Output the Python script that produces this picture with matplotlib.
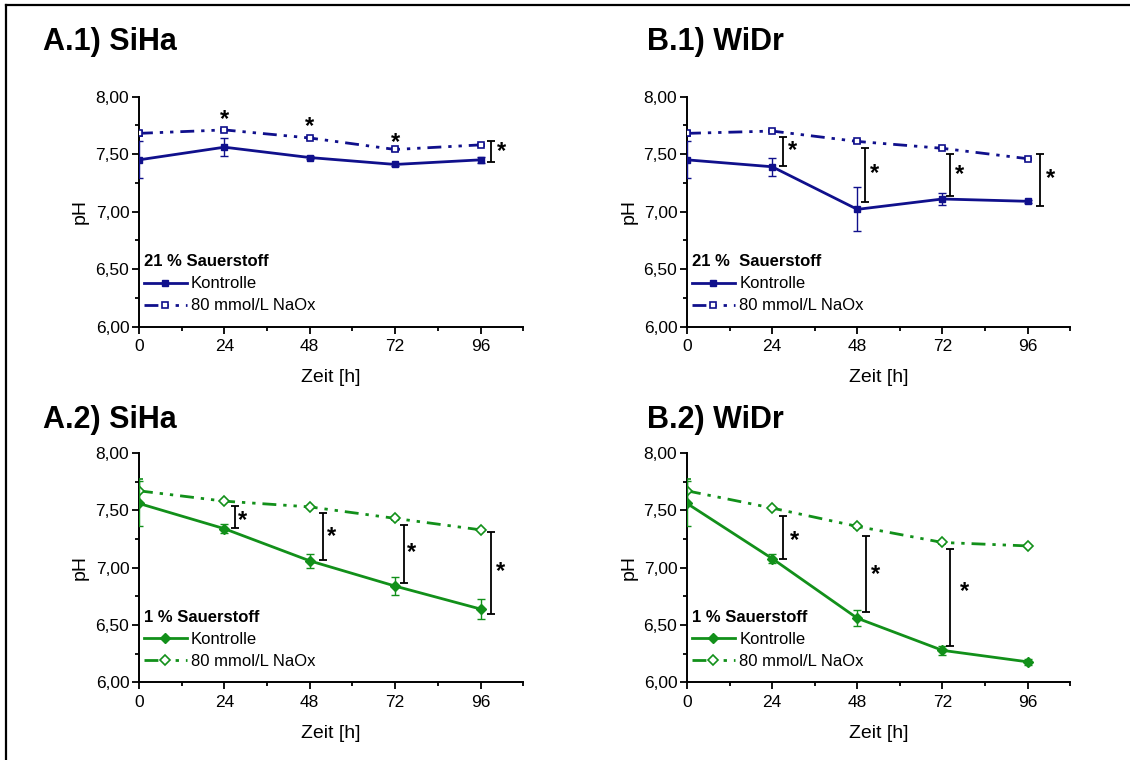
import numpy as np
import matplotlib
matplotlib.use("Agg")
import matplotlib.pyplot as plt
from matplotlib.ticker import MultipleLocator, FuncFormatter
from matplotlib.lines import Line2D

plt.rcParams['font.family'] = ['Liberation Sans', 'DejaVu Sans']

# time points [h]
zeit = [0, 24, 48, 72, 96]

# A.1) SiHa, 21 % Sauerstoff
siha21_ctrl = [7.45, 7.56, 7.47, 7.41, 7.45]
siha21_ctrl_err = [0.16, 0.08, 0.01, 0.01, 0.025]
siha21_naox = [7.68, 7.71, 7.64, 7.54, 7.58]
siha21_naox_err = [0.02, 0.01, 0.01, 0.01, 0.01]
siha21_sig_x = [99]
siha21_sig_lo = [7.43]
siha21_sig_hi = [7.61]
siha21_star_x = [24, 48, 72, 101.8]
siha21_star_y = [7.80, 7.74, 7.60, 7.52]

# B.1) WiDr, 21 % Sauerstoff
widr21_ctrl = [7.45, 7.39, 7.02, 7.11, 7.09]
widr21_ctrl_err = [0.16, 0.08, 0.19, 0.05, 0.015]
widr21_naox = [7.68, 7.70, 7.61, 7.55, 7.46]
widr21_naox_err = [0.02, 0.01, 0.01, 0.01, 0.01]
widr21_sig_x = [27, 50.2, 74.2, 99.4]
widr21_sig_lo = [7.40, 7.08, 7.14, 7.05]
widr21_sig_hi = [7.65, 7.55, 7.50, 7.50]
widr21_star_x = [29.8, 52.8, 76.7, 102.6]
widr21_star_y = [7.53, 7.33, 7.32, 7.29]

# A.2) SiHa, 1 % Sauerstoff
siha1_ctrl = [7.56, 7.34, 7.06, 6.84, 6.64]
siha1_ctrl_err = [0.2, 0.04, 0.06, 0.075, 0.085]
siha1_naox = [7.67, 7.58, 7.53, 7.43, 7.33]
siha1_naox_err = [0.1, 0.01, 0.01, 0.01, 0.01]
siha1_sig_x = [27, 51.6, 74.6, 98.9]
siha1_sig_lo = [7.35, 7.07, 6.87, 6.60]
siha1_sig_hi = [7.54, 7.48, 7.37, 7.31]
siha1_star_x = [29.1, 54.0, 76.5, 101.7]
siha1_star_y = [7.41, 7.27, 7.13, 6.97]

# B.2) WiDr, 1 % Sauerstoff
widr1_ctrl = [7.56, 7.08, 6.56, 6.28, 6.18]
widr1_ctrl_err = [0.2, 0.04, 0.07, 0.04, 0.025]
widr1_naox = [7.67, 7.52, 7.36, 7.22, 7.19]
widr1_naox_err = [0.1, 0.01, 0.01, 0.01, 0.01]
widr1_sig_x = [27, 50.5, 74.2]
widr1_sig_lo = [7.08, 6.61, 6.32]
widr1_sig_hi = [7.45, 7.28, 7.16]
widr1_star_x = [30.2, 53.1, 78.3]
widr1_star_y = [7.24, 6.94, 6.79]

blue = '#10108c'
green = '#12901a'

panels = [
    ('A.1) SiHa', '21 % Sauerstoff', blue, 's', siha21_ctrl, siha21_ctrl_err, siha21_naox, siha21_naox_err,
     siha21_sig_x, siha21_sig_lo, siha21_sig_hi, siha21_star_x, siha21_star_y),
    ('B.1) WiDr', '21 %  Sauerstoff', blue, 's', widr21_ctrl, widr21_ctrl_err, widr21_naox, widr21_naox_err,
     widr21_sig_x, widr21_sig_lo, widr21_sig_hi, widr21_star_x, widr21_star_y),
    ('A.2) SiHa', '1 % Sauerstoff', green, 'D', siha1_ctrl, siha1_ctrl_err, siha1_naox, siha1_naox_err,
     siha1_sig_x, siha1_sig_lo, siha1_sig_hi, siha1_star_x, siha1_star_y),
    ('B.2) WiDr', '1 % Sauerstoff', green, 'D', widr1_ctrl, widr1_ctrl_err, widr1_naox, widr1_naox_err,
     widr1_sig_x, widr1_sig_lo, widr1_sig_hi, widr1_star_x, widr1_star_y),
]

# axes rectangles in figure fractions
rects = [
    [0.123, 0.570, 0.340, 0.303],
    [0.608, 0.570, 0.339, 0.303],
    [0.123, 0.102, 0.340, 0.302],
    [0.608, 0.102, 0.339, 0.302],
]
title_pos = [(0.038, 0.945), (0.573, 0.945), (0.038, 0.447), (0.573, 0.447)]

fig = plt.figure(figsize=(11.3, 7.6), dpi=100)

# frame lines on top and left
fig.add_artist(Line2D([0.0053, 0.0053], [0, 0.9935], transform=fig.transFigure, color='black', lw=1.6))
fig.add_artist(Line2D([0.0053, 1.0], [0.9935, 0.9935], transform=fig.transFigure, color='black', lw=1.6))

dash = (0, (5, 2.5, 1.2, 2.5, 1.2, 2.5))
comma = FuncFormatter(lambda v, p: f'{v:.2f}'.replace('.', ','))

for rect, tpos, p in zip(rects, title_pos, panels):
    (title, leg_title, col, mk, ctrl, ctrl_err, naox, naox_err,
     sig_x, sig_lo, sig_hi, star_x, star_y) = p
    ax = fig.add_axes(rect)
    ms = 5 if mk == 's' else 5.5

    ax.errorbar(zeit, naox, yerr=naox_err, color=col, lw=2.0, ls=dash,
                marker=mk, ms=ms, mfc='white', mec=col, mew=1.2,
                capsize=3, elinewidth=1.0, capthick=1.0, zorder=3)
    ax.errorbar(zeit, ctrl, yerr=ctrl_err, color=col, lw=2.0, ls='-',
                marker=mk, ms=ms, mfc=col, mec=col,
                capsize=3, elinewidth=1.0, capthick=1.0, zorder=4)

    # significance brackets
    sig_mid = [(a + b) / 2 for a, b in zip(sig_lo, sig_hi)]
    sig_half = [(b - a) / 2 for a, b in zip(sig_lo, sig_hi)]
    ax.errorbar(sig_x, sig_mid, yerr=sig_half, fmt='none', ecolor='black',
                elinewidth=1.3, capsize=3, capthick=1.3, clip_on=False, zorder=5)
    for sx, sy in zip(star_x, star_y):
        ax.text(sx, sy, '*', fontsize=17, fontweight='bold', ha='center', va='center',
                clip_on=False)

    ax.set_xlim(0, 108)
    ax.set_ylim(6, 8)
    ax.xaxis.set_major_locator(MultipleLocator(24))
    ax.xaxis.set_minor_locator(MultipleLocator(12))
    ax.yaxis.set_major_locator(MultipleLocator(0.5))
    ax.yaxis.set_minor_locator(MultipleLocator(0.25))
    ax.set_xticks([0, 24, 48, 72, 96])
    ax.yaxis.set_major_formatter(comma)
    ax.spines['top'].set_visible(False)
    ax.spines['right'].set_visible(False)
    for s in ['left', 'bottom']:
        ax.spines[s].set_linewidth(1.4)
    ax.tick_params(which='major', direction='out', length=5, width=1.3, labelsize=12.5, pad=2)
    ax.tick_params(axis='x', which='major', pad=4)
    ax.tick_params(which='minor', direction='out', length=3, width=1.3)

    ax.set_xlabel('Zeit [h]', fontsize=14)
    ax.set_ylabel('pH', fontsize=14)
    ax.xaxis.set_label_coords(0.5, -0.185)
    ax.yaxis.set_label_coords(-0.13, 0.5)

    h_ctrl = Line2D([], [], color=col, lw=2.0, ls='-', marker=mk, ms=ms, mfc=col, mec=col)
    h_naox = Line2D([], [], color=col, lw=2.0, ls=dash, marker=mk, ms=ms, mfc='white', mec=col, mew=1.2)
    ax.legend([h_ctrl, h_naox], ['Kontrolle', '80 mmol/L NaOx'], title=leg_title, loc='lower left',
              bbox_to_anchor=(0.012, 0.058), frameon=False, fontsize=12,
              title_fontproperties={'weight': 'bold', 'size': 12},
              alignment='left', borderpad=0, borderaxespad=0,
              handlelength=2.6, handletextpad=0.25, labelspacing=0.42)

    fig.text(tpos[0], tpos[1], title, fontsize=22, fontweight='bold', ha='left', va='center')

fig.savefig('out.png', dpi=100)
